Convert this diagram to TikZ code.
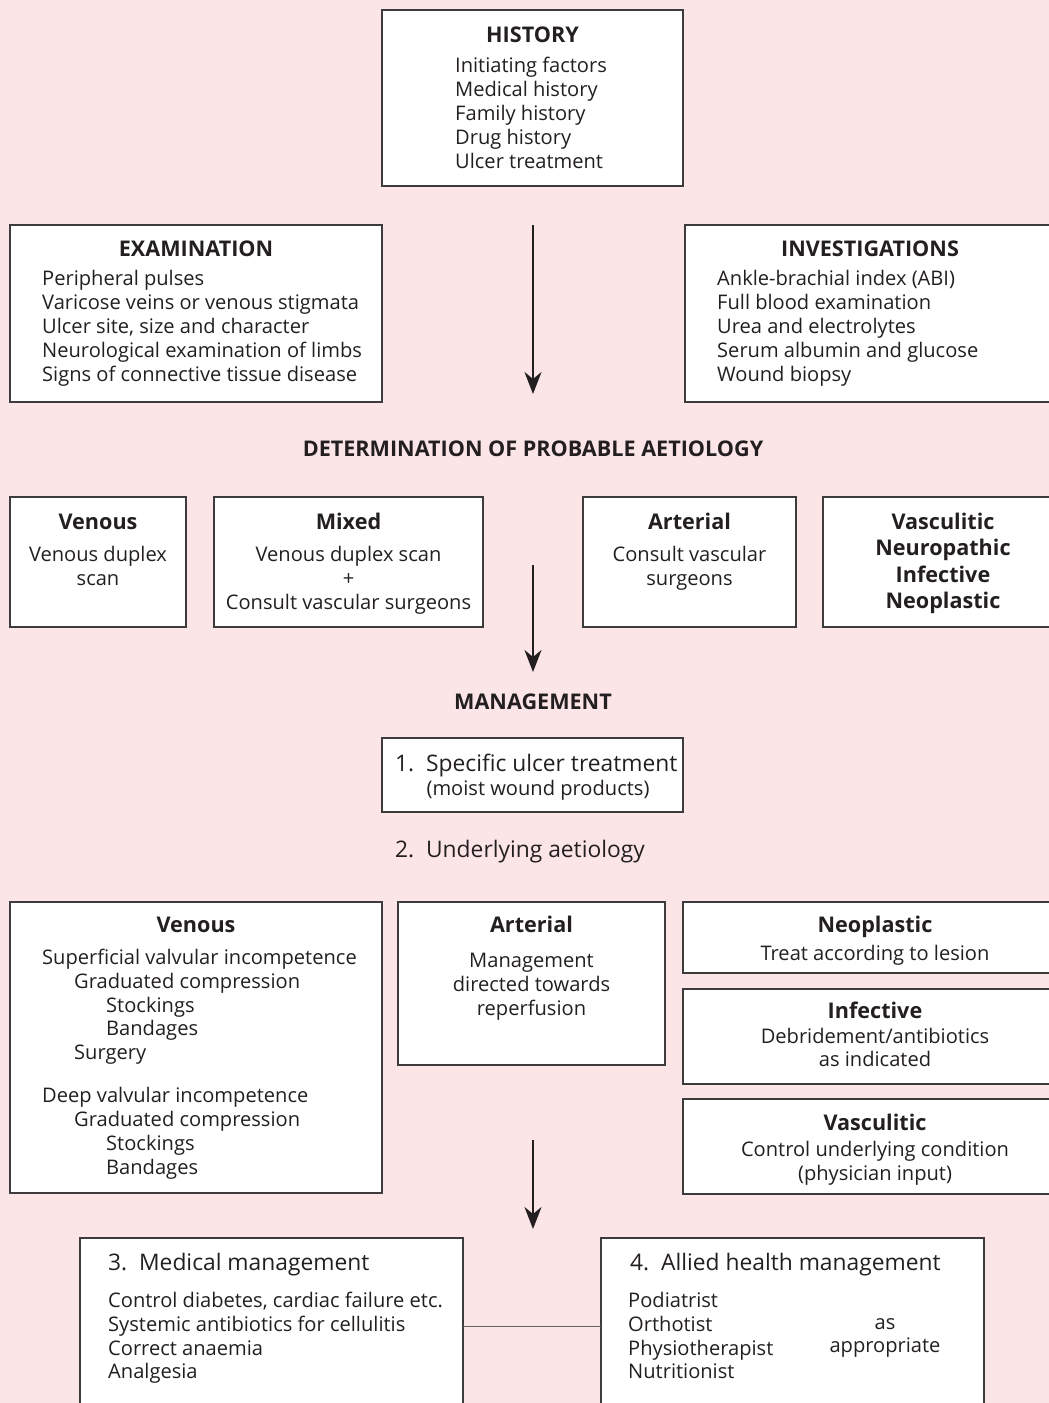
\documentclass[tikz,border=0pt]{standalone}
\usepackage{fontspec}
\setmainfont{Open Sans}
\usetikzlibrary{arrows.meta}
\definecolor{bgpink}{RGB}{252,229,230}
\definecolor{ink}{RGB}{35,31,32}
\definecolor{edgec}{RGB}{60,60,60}
\begin{document}
\begin{tikzpicture}[x=1pt,y=-1pt,
  box/.style={draw=edgec, line width=1.2pt, fill=white, inner sep=0pt, outer sep=0pt, anchor=north west, rectangle},
  txt/.style={text=ink, inner sep=0pt, yshift=-5pt, font=\fontsize{20.1}{24}\selectfont},
  ttl/.style={text=ink, inner sep=0pt, yshift=-6pt, font=\bfseries\fontsize{21.6}{24}\selectfont},
  big/.style={text=ink, inner sep=0pt, yshift=-5pt, font=\fontsize{22.8}{24}\selectfont},
  arr/.style={draw=ink, line width=2pt, -{Stealth[length=22pt,width=17pt,inset=7pt]}},
  conn/.style={draw=edgec!80, line width=1.2pt}]
\fill[bgpink] (0,0) rectangle (1049,1403);
\useasboundingbox (0,0) rectangle (1049,1403);

% ---------- HISTORY ----------
\node[box, minimum width=301, minimum height=176] (hist) at (382,10) {};
\node[ttl, anchor=mid] (histT) at (532.5,34) {HISTORY};
\foreach \t [count=\i] in {Initiating factors,Medical history,Family history,Drug history,Ulcer treatment}
  \node[txt, anchor=mid west] (h\i) at (455,65+24*\i-24) {\t};

% ---------- EXAMINATION ----------
\node[box, minimum width=372, minimum height=177] (exam) at (10,225) {};
\node[ttl, anchor=mid] (examT) at (196,248) {EXAMINATION};
\foreach \t [count=\i] in {Peripheral pulses,Varicose veins or venous stigmata,{Ulcer site, size and character},Neurological examination of limbs,Signs of connective tissue disease}
  \node[txt, anchor=mid west] (e\i) at (42,278+24*\i-24) {\t};

% ---------- INVESTIGATIONS ----------
\node[box, minimum width=380, minimum height=177] (inv) at (685,225) {};
\node[ttl, anchor=mid] (invT) at (870,248) {INVESTIGATIONS};
\foreach \t [count=\i] in {Ankle-brachial index (ABI),Full blood examination,Urea and electrolytes,Serum albumin and glucose,Wound biopsy}
  \node[txt, anchor=mid west] (i\i) at (717,278+24*\i-24) {\t};

% arrow 1
\coordinate (a1s) at (533,225);
\coordinate (a1e) at (533,394);
\draw[arr] (a1s) -- (a1e);

\node[ttl, anchor=mid] (det) at (533,448) {DETERMINATION OF PROBABLE AETIOLOGY};

% ---------- aetiology row ----------
\node[box, minimum width=176, minimum height=130] (ven1) at (10,497) {};
\node[ttl, anchor=mid] (ven1T) at (98,521) {Venous};
\node[txt, anchor=mid] (ven1a) at (98,554) {Venous duplex};
\node[txt, anchor=mid] (ven1b) at (98,578) {scan};

\node[box, minimum width=269, minimum height=130] (mix) at (214,497) {};
\node[ttl, anchor=mid] (mixT) at (348.5,521) {Mixed};
\node[txt, anchor=mid] (mixa) at (348.5,554) {Venous duplex scan};
\node[txt, anchor=mid] (mixb) at (348.5,578) {+};
\node[txt, anchor=mid] (mixc) at (348.5,602) {Consult vascular surgeons};

\node[box, minimum width=213, minimum height=130] (art1) at (583,497) {};
\node[ttl, anchor=mid] (art1T) at (689.5,521) {Arterial};
\node[txt, anchor=mid] (art1a) at (689.5,554) {Consult vascular};
\node[txt, anchor=mid] (art1b) at (689.5,578) {surgeons};

\node[box, minimum width=240, minimum height=130] (oth) at (823,497) {};
\foreach \t [count=\i] in {Vasculitic,Neuropathic,Infective,Neoplastic}
  \node[ttl, anchor=mid] (o\i) at (943,521+26.3*\i-26.3) {\t};

% arrow 2
\coordinate (a2s) at (533,565);
\coordinate (a2e) at (533,672);
\draw[arr] (a2s) -- (a2e);

\node[ttl, anchor=mid] (mgmt) at (533,701) {MANAGEMENT};

% ---------- 1. specific ----------
\node[box, minimum width=301, minimum height=74] (spec) at (382,738) {};
\node[big, anchor=mid west] (specA) at (395,764) {1.\ \ Specific ulcer treatment};
\node[txt, anchor=mid] (specB) at (538,788) {(moist wound products)};

\node[big, anchor=mid west] (und) at (395,850) {2.\ \ Underlying aetiology};

% ---------- Venous big ----------
\node[box, minimum width=372, minimum height=291] (ven2) at (10,902) {};
\node[ttl, anchor=mid] (ven2T) at (196,924) {Venous};
\node[txt, anchor=mid west] (v1) at (42,957) {Superficial valvular incompetence};
\node[txt, anchor=mid west] (v2) at (74,981) {Graduated compression};
\node[txt, anchor=mid west] (v3) at (106,1005) {Stockings};
\node[txt, anchor=mid west] (v4) at (106,1028) {Bandages};
\node[txt, anchor=mid west] (v5) at (74,1052) {Surgery};
\node[txt, anchor=mid west] (v6) at (42,1095) {Deep valvular incompetence};
\node[txt, anchor=mid west] (v7) at (74,1119) {Graduated compression};
\node[txt, anchor=mid west] (v8) at (106,1143) {Stockings};
\node[txt, anchor=mid west] (v9) at (106,1167) {Bandages};

% ---------- Arterial big ----------
\node[box, minimum width=267, minimum height=163] (art2) at (398,902) {};
\node[ttl, anchor=mid] (art2T) at (531.5,924) {Arterial};
\foreach \t [count=\i] in {Management,directed towards,reperfusion}
  \node[txt, anchor=mid] (ar\i) at (531.5,960+24*\i-24) {\t};

% ---------- Neoplastic / Infective / Vasculitic ----------
\node[box, minimum width=380, minimum height=71] (neo) at (683,902) {};
\node[ttl, anchor=mid] (neoT) at (875,924) {Neoplastic};
\node[txt, anchor=mid] (neoA) at (875,953) {Treat according to lesion};

\node[box, minimum width=380, minimum height=95] (inf) at (683,989) {};
\node[ttl, anchor=mid] (infT) at (875,1010) {Infective};
\node[txt, anchor=mid] (infA) at (875,1036) {Debridement/antibiotics};
\node[txt, anchor=mid] (infB) at (875,1059) {as indicated};

\node[box, minimum width=380, minimum height=95] (vas) at (683,1099) {};
\node[ttl, anchor=mid] (vasT) at (875,1122) {Vasculitic};
\node[txt, anchor=mid] (vasA) at (875,1149) {Control underlying condition};
\node[txt, anchor=mid] (vasB) at (875,1173) {(physician input)};

% arrow 3
\coordinate (a3s) at (533,1140);
\coordinate (a3e) at (533,1229);
\draw[arr] (a3s) -- (a3e);

% ---------- 3. Medical ----------
\node[box, minimum width=383, minimum height=200] (med) at (80,1238) {};
\node[big, anchor=mid west] (medT) at (108,1263) {3.\ \ Medical management};
\foreach \t [count=\i] in {{Control diabetes, cardiac failure etc.},Systemic antibiotics for cellulitis,Correct anaemia,Analgesia}
  \node[txt, anchor=mid west] (m\i) at (108,1300+23.7*\i-23.7) {\t};

% ---------- 4. Allied ----------
\node[box, minimum width=383, minimum height=200] (all) at (601,1238) {};
\node[big, anchor=mid west] (allT) at (630,1263) {4.\ \ Allied health management};
\foreach \t [count=\i] in {Podiatrist,Orthotist,Physiotherapist,Nutritionist}
  \node[txt, anchor=mid west] (p\i) at (628,1300+23.7*\i-23.7) {\t};
\node[txt, anchor=mid] (asA) at (885,1322) {as};
\node[txt, anchor=mid] (asB) at (885,1345) {appropriate};

\draw[conn] (med.east |- m2) -- (all.west |- m2);
\end{tikzpicture}
\end{document}
